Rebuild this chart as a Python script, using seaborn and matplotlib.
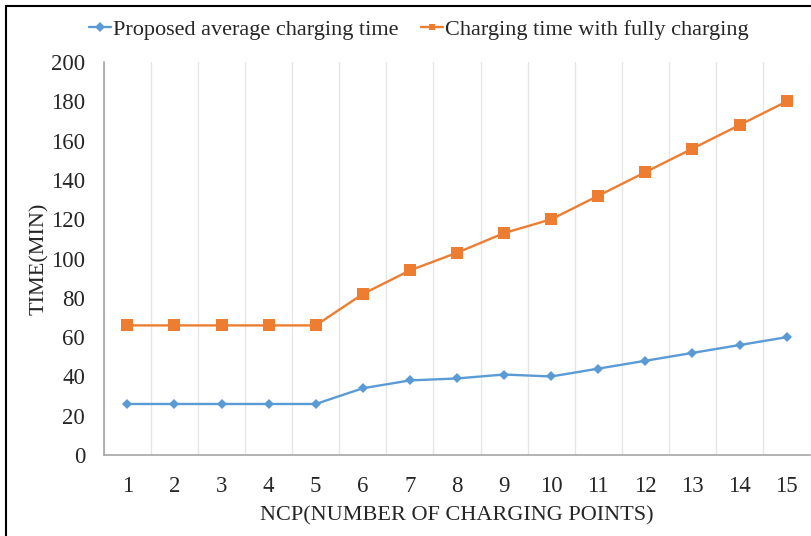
import pandas as pd
import seaborn as sns
import matplotlib.pyplot as plt
from matplotlib.patches import Rectangle

# data
ncp = list(range(1, 16))
proposed_avg = [26, 26, 26, 26, 26, 34, 38, 39, 41, 40, 44, 48, 52, 56, 60]
fully_charging = [66, 66, 66, 66, 66, 82, 94, 103, 113, 120, 132, 144, 156, 168, 180]
series_names = ["Proposed average charging time", "Charging time with fully charging"]

df = pd.DataFrame({
    "NCP": ncp * 2,
    "Time": proposed_avg + fully_charging,
    "Series": [series_names[0]] * len(ncp) + [series_names[1]] * len(ncp),
})

sns.set_style("white")
plt.rcParams["font.family"] = ["Liberation Serif", "DejaVu Serif"]

fig, ax = plt.subplots(figsize=(8.11, 5.36), dpi=100)
fig.subplots_adjust(left=0.128, right=0.999, top=0.884, bottom=0.151)

palette = {series_names[0]: "#5B9BD5", series_names[1]: "#ED7D31"}
sns.lineplot(
    data=df, x="NCP", y="Time", hue="Series", style="Series",
    markers={series_names[0]: "D", series_names[1]: "s"},
    dashes=False, palette=palette, linewidth=1.7, markersize=6,
    markeredgewidth=0, ax=ax,
)
# squares a bit bigger than the diamonds
for line, ms in zip(ax.get_lines()[:2], [5, 8]):
    line.set_markersize(ms)

ax.set_xlim(0.5, 15.5)
ax.set_ylim(0, 200)
ax.set_xticks(ncp)
ax.set_yticks(range(0, 201, 20))
ax.set_xticks([i + 0.5 for i in range(0, 16)], minor=True)
ax.grid(True, which="minor", axis="x", color="#E6E6E6", linewidth=1)
ax.grid(False, which="major")
ax.tick_params(axis="y", which="both", length=0, labelsize=16.5, pad=13.5)
ax.tick_params(axis="x", which="both", length=0, labelsize=16.5, pad=15)

for side in ["top", "right"]:
    ax.spines[side].set_visible(False)
for side in ["left", "bottom"]:
    ax.spines[side].set_color("#A6A6A6")
    ax.spines[side].set_linewidth(1.2)

ax.set_xlabel("NCP(NUMBER OF CHARGING POINTS)", fontsize=16, labelpad=7)
ax.set_ylabel("TIME(MIN)", fontsize=16, labelpad=1)

leg = ax.legend(
    loc="upper center", bbox_to_anchor=(0.446, 1.16), ncol=2, frameon=False,
    fontsize=16, handlelength=1.0, handletextpad=0.1, columnspacing=1.0,
)
for h in leg.legend_handles:
    h.set_markersize(5)

fig.patches.append(Rectangle((0.007, -0.01), 1.1, 0.999, transform=fig.transFigure,
                             fill=False, edgecolor="black", linewidth=1.5))

fig.savefig("out.png", dpi=100)
